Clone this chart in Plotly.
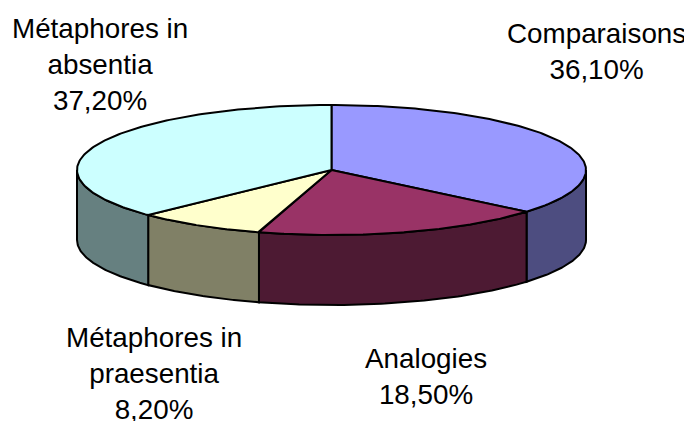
import numpy as np
import plotly.graph_objects as go

# ---- data ----
categories = ["Comparaisons", "Analogies", "Métaphores in praesentia", "Métaphores in absentia"]
label_lines = [["Comparaisons"], ["Analogies"], ["Métaphores in", "praesentia"], ["Métaphores in", "absentia"]]
values = [36.1, 18.5, 8.2, 37.2]
value_labels = ["36,10%", "18,50%", "8,20%", "37,20%"]

# ---- style ----
top_colors = ["#9999FF", "#993366", "#FFFFCC", "#CCFFFF"]
side_colors = ["#4D4D80", "#4D1A33", "#808066", "#668080"]
W, H = 692, 421
OFF = 8  # default page body margin
CX, CY = 331.5, 170.0   # ellipse centre (pixels)
RA, RB = 254.5, 65.0    # semi axes
DEPTH = 70.0
label_pos = [(596, 51), (426, 376), (154, 373), (100, 64)]

def pt(theta_deg, dy=0.0):
    t = np.radians(theta_deg)
    return CX + RA * np.sin(t), CY - RB * np.cos(t) + dy

fig = go.Figure()
total = sum(values)
bounds = np.concatenate([[0], np.cumsum(values) / total * 360.0])

# side walls (visible front half: 90..270 deg clockwise from top)
for i in range(len(values)):
    s, e = max(bounds[i], 90.0), min(bounds[i + 1], 270.0)
    if e <= s:
        continue
    th = np.linspace(s, e, 80)
    xt, yt = pt(th)
    xb, yb = pt(th[::-1], DEPTH)
    xs = np.concatenate([xt, xb, xt[:1]])
    ys = np.concatenate([yt, yb, yt[:1]])
    fig.add_trace(go.Scatter(x=xs, y=ys, mode="lines", fill="toself",
                             fillcolor=side_colors[i], line=dict(color="black", width=2),
                             hoverinfo="skip", showlegend=False))

# top faces
for i in range(len(values)):
    th = np.linspace(bounds[i], bounds[i + 1], 150)
    xa, ya = pt(th)
    xs = np.concatenate([[CX], xa, [CX]])
    ys = np.concatenate([[CY], ya, [CY]])
    fig.add_trace(go.Scatter(x=xs, y=ys, mode="lines", fill="toself",
                             fillcolor=top_colors[i], line=dict(color="black", width=2),
                             hoverinfo="skip", showlegend=False, name=categories[i]))

for i in range(len(values)):
    txt = "<br>".join(label_lines[i] + [value_labels[i]])
    fig.add_annotation(x=label_pos[i][0], y=label_pos[i][1], text=txt, showarrow=False,
                       xanchor="center", yanchor="middle", align="center",
                       font=dict(family="Liberation Sans, Arial", size=27.8, color="black"))

fig.update_layout(width=W, height=H, margin=dict(l=0, r=0, t=0, b=0),
                  paper_bgcolor="white", plot_bgcolor="white", showlegend=False,
                  xaxis=dict(range=[OFF, W + OFF], visible=False, fixedrange=True),
                  yaxis=dict(range=[H + OFF, OFF], visible=False, fixedrange=True))
fig.write_html("out.html")
